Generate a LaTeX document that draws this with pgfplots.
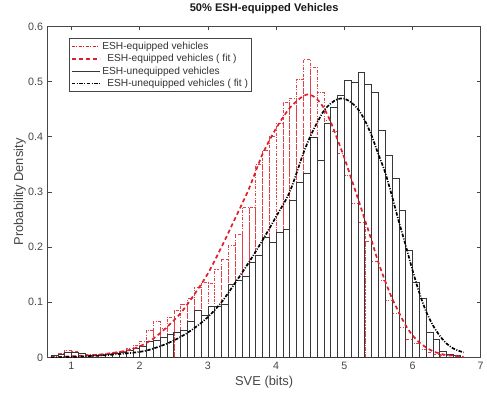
\documentclass[border=0pt]{standalone}
\usepackage{fontspec}
\setmainfont{Liberation Sans}
\usepackage{pgfplots}
\pgfplotsset{compat=1.18}
\definecolor{axgray}{RGB}{70,70,70}
\definecolor{eqred}{RGB}{222,30,40}
\definecolor{barblack}{RGB}{55,55,55}

% histogram of SVE values, ESH-equipped vehicles (left bin edge, density)
\newcommand{\eqbars}{
(0.7,0.004) (0.8,0.008) (0.9,0.013) (1.0,0.012) (1.1,0.008) (1.2,0.006)
(1.3,0.005) (1.4,0.006) (1.5,0.008) (1.6,0.010) (1.7,0.012) (1.8,0.016)
(1.9,0.022) (2.0,0.030) (2.1,0.050) (2.2,0.065) (2.3,0.052) (2.4,0.073)
(2.5,0.086) (2.6,0.097) (2.7,0.107) (2.8,0.128) (2.9,0.137) (3.0,0.135)
(3.1,0.160) (3.2,0.177) (3.3,0.203) (3.4,0.224) (3.5,0.272) (3.6,0.272)
(3.7,0.350) (3.8,0.376) (3.9,0.400) (4.0,0.424) (4.1,0.463) (4.2,0.470)
(4.3,0.505) (4.4,0.540) (4.5,0.526) (4.6,0.481) (4.7,0.430) (4.8,0.410)
(4.9,0.370) (5.0,0.330) (5.1,0.280) (5.2,0.245) (5.3,0.210) (5.4,0.175)
(5.5,0.140) (5.6,0.104) (5.7,0.080) (5.8,0.055) (5.9,0.032) (6.0,0.025)
(6.1,0.015) (6.2,0.010) (6.3,0.006) (6.4,0.004) (6.5,0.003) (6.6,0.002)
(6.7,0)}

% histogram of SVE values, ESH-unequipped vehicles
\newcommand{\uneqbars}{
(0.7,0.003) (0.8,0.006) (0.9,0.010) (1.0,0.009) (1.1,0.007) (1.2,0.004)
(1.3,0.003) (1.4,0.004) (1.5,0.005) (1.6,0.007) (1.7,0.010) (1.8,0.013)
(1.9,0.016) (2.0,0.020) (2.1,0.030) (2.2,0.031) (2.3,0.036) (2.4,0.041)
(2.5,0.045) (2.6,0.050) (2.7,0.065) (2.8,0.086) (2.9,0.077) (3.0,0.093)
(3.1,0.093) (3.2,0.097) (3.3,0.133) (3.4,0.139) (3.5,0.147) (3.6,0.173)
(3.7,0.185) (3.8,0.218) (3.9,0.209) (4.0,0.227) (4.1,0.233) (4.2,0.285)
(4.3,0.318) (4.4,0.333) (4.5,0.399) (4.6,0.358) (4.7,0.424) (4.8,0.454)
(4.9,0.475) (5.0,0.502) (5.1,0.499) (5.2,0.517) (5.3,0.495) (5.4,0.480)
(5.5,0.412) (5.6,0.367) (5.7,0.324) (5.8,0.266) (5.9,0.195) (6.0,0.137)
(6.1,0.107) (6.2,0.045) (6.3,0.032) (6.4,0.011) (6.5,0.005) (6.6,0.004)
(6.7,0)}

\begin{document}
\begin{tikzpicture}
\begin{axis}[
  at={(0,0)}, anchor=south west,
  scale only axis, width=437pt, height=334pt,
  xmin=0.65, xmax=7, ymin=0, ymax=0.6,
  xtick={1,2,3,4,5,6,7},
  ytick={0,0.1,0.2,0.3,0.4,0.5,0.6},
  yticklabels={0,0.1,0.2,0.3,0.4,0.5,0.6},
  tick align=inside, major tick length=4pt,
  axis line style={axgray, line width=0.5pt},
  tick style={axgray, line width=0.5pt},
  /pgf/number format/assume math mode=true,
  ticklabel style={font=\fontsize{10.8}{12}\selectfont, text=axgray},
  xticklabel style={yshift=-1pt},
  yticklabel style={xshift=-1pt},
  title={\textbf{50\% ESH-equipped Vehicles}},
  title style={at={(axis description cs:0.5,1.036)}, anchor=center,
    font=\fontsize{11.2}{13}\selectfont, text=black!90},
  xlabel={SVE (bits)},
  xlabel style={at={(axis description cs:0.5,-0.075)}, anchor=center,
    font=\fontsize{13}{15}\selectfont, text=axgray},
  ylabel={Probability Density},
  ylabel style={at={(axis description cs:-0.064,0.5)}, anchor=center,
    font=\fontsize{13}{15}\selectfont, text=axgray},
  legend image code/.code={\draw[#1] (0pt,0pt) -- (28pt,0pt);},
  legend style={at={(axis description cs:0.05,0.964)}, anchor=north west,
    draw=axgray, font=\fontsize{10.3}{11.8}\selectfont,
    inner sep=1.5pt, row sep=-0.5pt, text=black!80},
  legend cell align=left,
]
% legend entries in the order of the series
\addlegendimage{draw=eqred, line width=0.5pt, dash pattern=on 3pt off 1.5pt on 1pt off 1.5pt}
\addlegendentry{ESH-equipped vehicles}
\addlegendimage{draw=eqred, line width=1.7pt, dash pattern=on 4pt off 3pt}
\addlegendentry{\hspace{5pt}ESH-equipped vehicles ( fit )}
\addlegendimage{draw=barblack, line width=0.5pt}
\addlegendentry{ESH-unequipped vehicles}
\addlegendimage{draw=black, line width=1.7pt, dash pattern=on 3.5pt off 1.5pt on 1pt off 1.5pt}
\addlegendentry{\hspace{5pt}ESH-unequipped vehicles ( fit )}

% ESH-equipped histogram
\addplot[forget plot, ybar interval, draw=eqred!85, fill=none, line width=0.5pt,
  dash pattern=on 3pt off 1.5pt on 1pt off 1.5pt] coordinates {\eqbars};

% ESH-unequipped histogram
\addplot[forget plot, ybar interval, draw=barblack, fill=none, line width=0.6pt]
  coordinates {\uneqbars};

% fitted density, ESH-equipped
\addplot[forget plot, eqred, line width=1.7pt, dash pattern=on 4pt off 3pt, smooth]
coordinates {
(0.7,0.000) (1.0,0.002) (1.4,0.005) (1.8,0.012) (2.0,0.020) (2.2,0.034)
(2.4,0.055) (2.6,0.080) (2.8,0.114) (3.0,0.152) (3.2,0.200) (3.4,0.252)
(3.6,0.305) (3.8,0.368) (4.0,0.415) (4.2,0.452) (4.4,0.474) (4.5,0.476)
(4.6,0.468) (4.7,0.452) (4.8,0.427) (4.9,0.395) (5.0,0.362) (5.1,0.325)
(5.2,0.288) (5.3,0.250) (5.4,0.212) (5.5,0.172) (5.6,0.138) (5.7,0.107)
(5.8,0.082) (5.9,0.058) (6.0,0.040) (6.1,0.027) (6.2,0.018) (6.3,0.011)
(6.4,0.007) (6.5,0.004) (6.6,0.003) (6.75,0.001)};

% fitted density, ESH-unequipped
\addplot[forget plot, black, line width=1.7pt,
  dash pattern=on 3.5pt off 1.5pt on 1pt off 1.5pt, smooth]
coordinates {
(0.7,0.000) (1.0,0.001) (1.5,0.004) (2.0,0.010) (2.2,0.016) (2.4,0.025)
(2.6,0.037) (2.8,0.053) (3.0,0.073) (3.2,0.100) (3.4,0.135) (3.6,0.172)
(3.8,0.212) (4.0,0.255) (4.2,0.300) (4.4,0.370) (4.5,0.400) (4.6,0.425)
(4.7,0.447) (4.8,0.460) (4.9,0.468) (5.0,0.469) (5.1,0.462) (5.2,0.450)
(5.3,0.430) (5.4,0.402) (5.5,0.368) (5.6,0.335) (5.7,0.292) (5.8,0.246)
(5.9,0.203) (6.0,0.158) (6.1,0.117) (6.2,0.083) (6.3,0.058) (6.4,0.039)
(6.5,0.025) (6.6,0.016) (6.7,0.011) (6.75,0.009)};
\end{axis}
\path[use as bounding box] (-48pt,-39pt) rectangle (439pt,358pt);
\end{tikzpicture}
\end{document}
